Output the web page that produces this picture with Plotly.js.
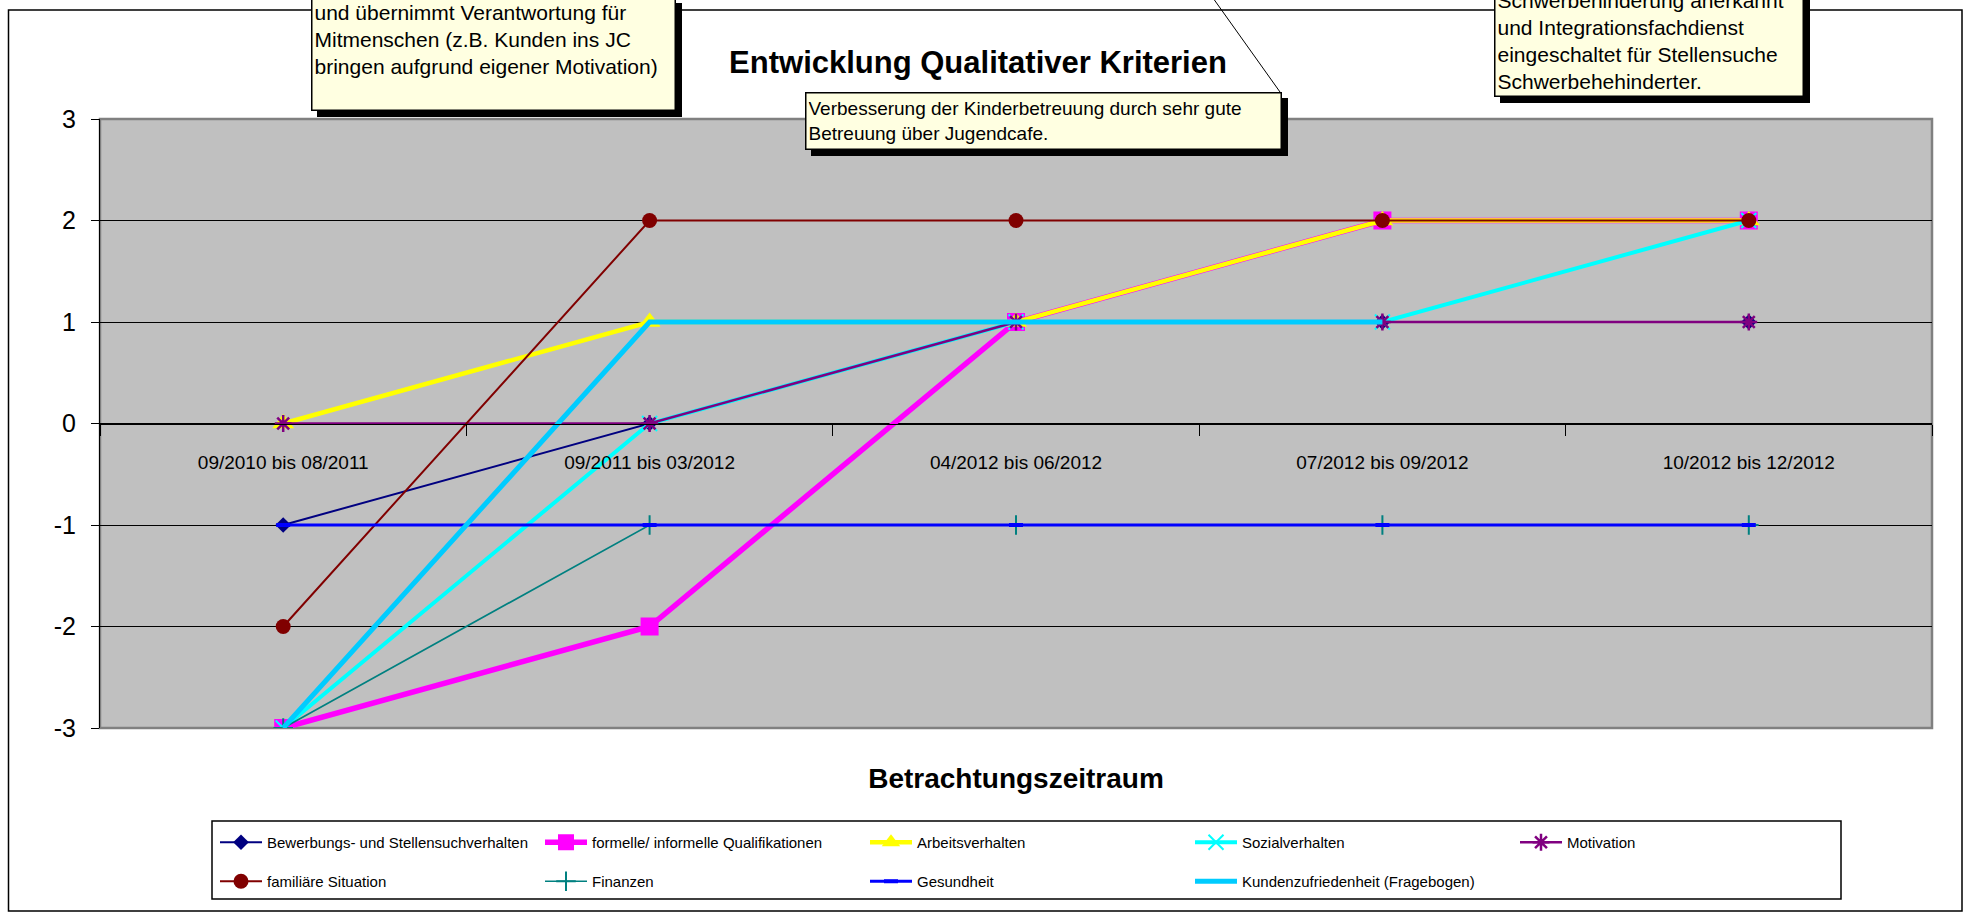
<!DOCTYPE html>
<html>
<head>
<meta charset="utf-8">
<script src="https://cdn.plot.ly/plotly-3.0.1.min.js"></script>
<style>
  body { margin: 0; background: #fff; }
  #chart { width: 1966px; height: 913px; }
</style>
</head>
<body>
<div id="chart"></div>
<script>
// Zeiträume (x-Achse)
const zeitraeume = ["09/2010 bis 08/2011", "09/2011 bis 03/2012", "04/2012 bis 06/2012", "07/2012 bis 09/2012", "10/2012 bis 12/2012"];

// Werte je Kriterium
const bewerbung = [-1, 0, 1, 1, 1];
const qualifikation = [-3, -2, 1, 2, 2];
const arbeitsverhalten = [0, 1, 1, 2, 2];
const sozialverhalten = [-3, 0, 1, 1, 2];
const motivation = [0, 0, 1, 1, 1];
const familie = [-2, 2, 2, 2, 2];
const finanzen = [-3, -1, -1, -1, -1];
const gesundheit = [-1, -1, -1, -1, -1];
const kunden = [-3, 1, 1, 1, null];

const yTicks = [-3, -2, -1, 0, 1, 2, 3];
const yTickText = ["-3", "-2", "-1", "0", "1", "2", "3"];

// Kommentare (Textfelder)
const notizLinks = ["und übernimmt Verantwortung für", "Mitmenschen (z.B. Kunden ins JC", "bringen aufgrund eigener Motivation)"];
const notizMitte = ["Verbesserung der Kinderbetreuung durch sehr gute", "Betreuung über Jugendcafe."];
const notizRechts = ["Schwerbehinderung anerkannt", "und Integrationsfachdienst", "eingeschaltet für Stellensuche", "Schwerbehehinderter."];

// pixel -> paper helpers (plot area 100..1932 x 119..728)
const L = 100, R = 34, T = 119, B = 185, W = 1966, H = 913;
const PW = W - L - R, PH = H - T - B;
const px = v => (v - L) / PW;
const py = v => (H - B - v) / PH;

function serie(name, y, color, width, marker, legend) {
    const t = {
        type: "scatter",
        mode: marker ? "lines+markers" : "lines",
        name: name,
        x: zeitraeume,
        y: y,
        line: { color: color, width: width },
        legend: legend,
        connectgaps: false
    };
    if (marker) t.marker = marker;
    return t;
}

const traces = [
    serie("Bewerbungs- und Stellensuchverhalten", bewerbung, "#000080", 2,
        { symbol: "diamond", size: 12, color: "#000080" }, "legend"),
    serie("formelle/ informelle Qualifikationen", qualifikation, "#FF00FF", 5.5,
        { symbol: "square", size: 18, color: "#FF00FF" }, "legend"),
    serie("Arbeitsverhalten", arbeitsverhalten, "#FFFF00", 4.5,
        { symbol: "triangle-up", size: 19, color: "#FFFF00" }, "legend"),
    serie("Sozialverhalten", sozialverhalten, "#00FFFF", 4,
        { symbol: "x-thin-open", size: 15, color: "#00FFFF", line: { width: 2 } }, "legend"),
    serie("Motivation", motivation, "#800080", 2.5,
        { symbol: "asterisk-open", size: 14, color: "#800080", line: { width: 2.5 } }, "legend"),
    serie("familiäre Situation", familie, "#800000", 2,
        { symbol: "circle", size: 15, color: "#800000" }, "legend2"),
    serie("Finanzen", finanzen, "#008080", 1.7,
        { symbol: "cross-thin-open", size: 14, color: "#008080", line: { width: 2 } }, "legend2"),
    serie("Gesundheit", gesundheit, "#0000FF", 3,
        { symbol: "line-ew-open", size: 10, color: "#0000FF", line: { width: 4 } }, "legend2"),
    serie("Kundenzufriedenheit (Fragebogen)", kunden, "#00CCFF", 5, null, "legend2")
];

// Textfelder mit Schatten
const boxFont = { family: "Liberation Sans, Arial, sans-serif", size: 20, color: "#000" };
const annotations = [];
const shadows = [];
function notiz(lines, left, right, top, bottom, valign, fsize) {
    const pad = 2, bw = 1.5;
    annotations.push({
        xref: "paper", yref: "paper",
        x: px(left), y: py(bottom),
        xanchor: "left", yanchor: "bottom",
        width: right - left - 2 * (pad + bw),
        height: bottom - top - 2 * (pad + bw),
        text: lines.join("<br>"),
        align: "left", valign: valign,
        showarrow: false,
        borderpad: pad, borderwidth: bw,
        bgcolor: "#FFFFE1", bordercolor: "#000",
        font: Object.assign({}, boxFont, { size: fsize })
    });
    shadows.push({
        type: "rect", xref: "paper", yref: "paper",
        x0: px(left + 6), x1: px(right + 6), y0: py(bottom + 6), y1: py(top + 6),
        line: { width: 0 }, fillcolor: "#000", layer: "above"
    });
}

notiz(notizLinks, 311, 676, -3, 111, "top", 21);
notiz(notizMitte, 805, 1282, 92, 150, "middle", 19);
notiz(notizRechts, 1494, 1804, -20, 97, "bottom", 21);

const shapes = [
    // Diagrammrahmen
    { type: "rect", xref: "paper", yref: "paper", x0: px(8.5), x1: px(1962), y0: py(911), y1: py(10),
      line: { color: "#000", width: 1.5 }, fillcolor: "rgba(0,0,0,0)", layer: "below" },
    // Zeichnungsfläche
    { type: "rect", xref: "paper", yref: "paper", x0: 0, x1: 1, y0: 0, y1: 1,
      line: { color: "#808080", width: 2.5 }, fillcolor: "rgba(0,0,0,0)", layer: "between" },
    // Legendenrahmen
    { type: "rect", xref: "paper", yref: "paper", x0: px(212), x1: px(1841), y0: py(899), y1: py(821),
      line: { color: "#000", width: 1.5 }, fillcolor: "rgba(0,0,0,0)", layer: "below" },
    // Verbindungslinie Textfeld
    { type: "line", xref: "paper", yref: "paper", x0: px(1280), y0: py(92), x1: px(1213), y1: py(-2),
      line: { color: "#000", width: 1 } },
    ...shadows
];

const legendBase = {
    orientation: "h",
    xref: "paper", yref: "paper",
    xanchor: "left", yanchor: "top",
    bgcolor: "rgba(0,0,0,0)",
    borderwidth: 0,
    entrywidth: 268, entrywidthmode: "pixels",
    itemwidth: 42,
    itemclick: false, itemdoubleclick: false,
    font: { family: "Liberation Sans, Arial, sans-serif", size: 15, color: "#000" }
};

Plotly.newPlot("chart", traces, {
    width: W, height: H,
    margin: { l: L, r: R, t: T, b: B },
    paper_bgcolor: "#FFFFFF",
    plot_bgcolor: "#C0C0C0",
    font: { family: "Liberation Sans, Arial, sans-serif", color: "#000" },
    title: {
        text: "Entwicklung Qualitativer Kriterien",
        font: { family: "Liberation Sans, Arial, sans-serif", size: 31, weight: 700, color: "#000" },
        xref: "container", yref: "container",
        x: 978 / W, y: 1 - 62 / H,
        xanchor: "center", yanchor: "middle"
    },
    xaxis: {
        type: "category",
        anchor: "free", position: 0.5,
        range: [-0.5, 4.5],
        showline: true, linecolor: "#000", linewidth: 1,
        ticks: "outside", tickson: "boundaries", ticklen: 11, tickcolor: "#000",
        ticklabelstandoff: 22,
        showgrid: false, zeroline: false,
        tickfont: { family: "Liberation Sans, Arial, sans-serif", size: 19, color: "#000" },
        title: {
            text: "Betrachtungszeitraum",
            font: { family: "Liberation Sans, Arial, sans-serif", size: 28, weight: 700, color: "#000" },
            standoff: 296
        },
        fixedrange: true
    },
    yaxis: {
        range: [-3, 3],
        tickvals: yTicks, ticktext: yTickText,
        showline: true, linecolor: "#000", linewidth: 1,
        ticks: "outside", ticklen: 8, tickcolor: "#000",
        ticklabelstandoff: 10,
        showgrid: true, gridcolor: "#000", gridwidth: 1,
        zeroline: false,
        tickfont: { family: "Liberation Sans, Arial, sans-serif", size: 25, color: "#000" },
        fixedrange: true
    },
    legend: Object.assign({}, legendBase, { x: px(215), y: py(826) }),
    legend2: Object.assign({}, legendBase, { x: px(215), y: py(865) }),
    annotations: annotations,
    shapes: shapes,
    showlegend: true
}, { displayModeBar: false, staticPlot: true });
</script>
</body>
</html>
